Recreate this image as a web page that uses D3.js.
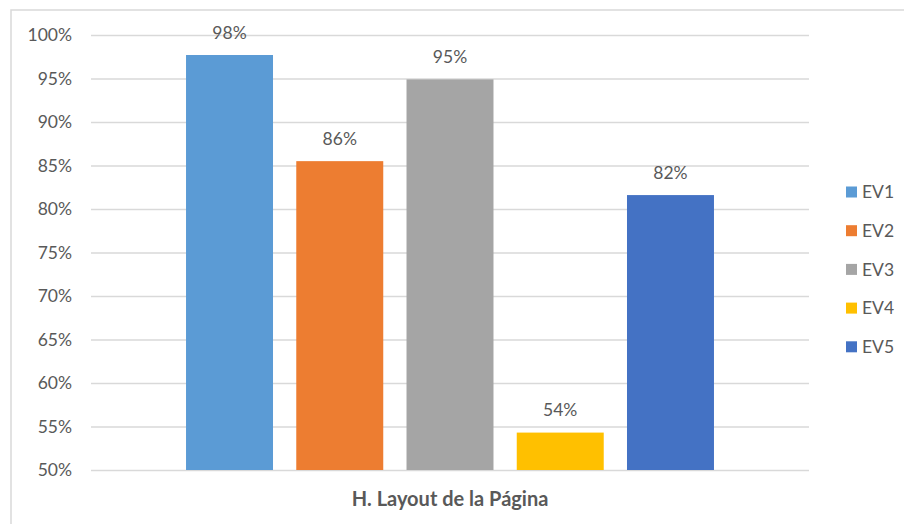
<!DOCTYPE html>
<html>
<head>
<meta charset="utf-8">
<script src="https://cdn.jsdelivr.net/npm/d3@7"></script>
<style>
  html, body { margin: 0; padding: 0; background: #fff; }
  svg { display: block; }
  text { font-family: Lato, "Open Sans", sans-serif; fill: #595959; }
</style>
</head>
<body>
<svg id="chart" width="904" height="524"></svg>
<script>
// Evaluation results per evaluator for the "Page layout" heuristic
const seriesNames = ["EV1", "EV2", "EV3", "EV4", "EV5"];
const seriesValues = [0.977, 0.855, 0.949, 0.543, 0.816];
const seriesColors = ["#5B9BD5", "#ED7D31", "#A5A5A5", "#FFC000", "#4472C4"];
const yTicks = [0.50, 0.55, 0.60, 0.65, 0.70, 0.75, 0.80, 0.85, 0.90, 0.95, 1.00];
const categoryLabel = "H. Layout de la Página";

const svg = d3.select("#chart");
const W = 904, H = 524;

// Chart frame (runs off the right and bottom edges)
svg.append("rect")
  .attr("x", 11).attr("y", 10)
  .attr("width", W + 20).attr("height", H + 20)
  .attr("fill", "#fff")
  .attr("stroke", "#d9d9d9").attr("stroke-width", 1.5);

const plot = { left: 91, right: 809, top: 35, bottom: 470 };

const y = d3.scaleLinear().domain([0.5, 1.0]).range([plot.bottom, plot.top]);
const x = d3.scaleBand()
  .domain(seriesNames)
  .range([plot.left, plot.right])
  .paddingInner(0.211)
  .paddingOuter(0.862);

const pct = d3.format(".0%");
const fs = 17.5;

// Gridlines
const yAxis = d3.axisLeft(y)
  .tickValues(yTicks)
  .tickFormat(pct)
  .tickSize(-(plot.right - plot.left))
  .tickPadding(19);

const gy = svg.append("g")
  .attr("transform", `translate(${plot.left},0)`)
  .call(yAxis);
gy.select(".domain").remove();
gy.selectAll(".tick line").attr("stroke", "#d9d9d9").attr("stroke-width", 1.5);
gy.selectAll(".tick text")
  .attr("font-size", fs)
  .attr("font-family", "Lato, sans-serif")
  .attr("fill", "#595959");

// Bars
svg.append("g").selectAll("rect")
  .data(seriesNames)
  .join("rect")
  .attr("x", d => x(d))
  .attr("width", x.bandwidth())
  .attr("y", (d, i) => y(seriesValues[i]))
  .attr("height", (d, i) => y(0.5) - y(seriesValues[i]))
  .attr("fill", (d, i) => seriesColors[i]);

// Value labels
svg.append("g").selectAll("text")
  .data(seriesNames)
  .join("text")
  .attr("x", d => x(d) + x.bandwidth() / 2)
  .attr("y", (d, i) => y(seriesValues[i]) - 16.5)
  .attr("text-anchor", "middle")
  .attr("font-size", fs)
  .text((d, i) => pct(seriesValues[i]));

// Category title
svg.append("text")
  .attr("x", (plot.left + plot.right) / 2)
  .attr("y", 506)
  .attr("text-anchor", "middle")
  .attr("font-size", 20)
  .attr("font-weight", "bold")
  .text(categoryLabel);

// Legend
const legend = svg.append("g").selectAll("g")
  .data(seriesNames)
  .join("g")
  .attr("transform", (d, i) => `translate(846,${192 + i * 38.7})`);
legend.append("rect")
  .attr("x", 0).attr("y", -5.5)
  .attr("width", 11).attr("height", 11)
  .attr("fill", (d, i) => seriesColors[i]);
legend.append("text")
  .attr("x", 16).attr("y", 0)
  .attr("dy", "0.35em")
  .attr("font-size", fs)
  .text(d => d);
</script>
</body>
</html>
